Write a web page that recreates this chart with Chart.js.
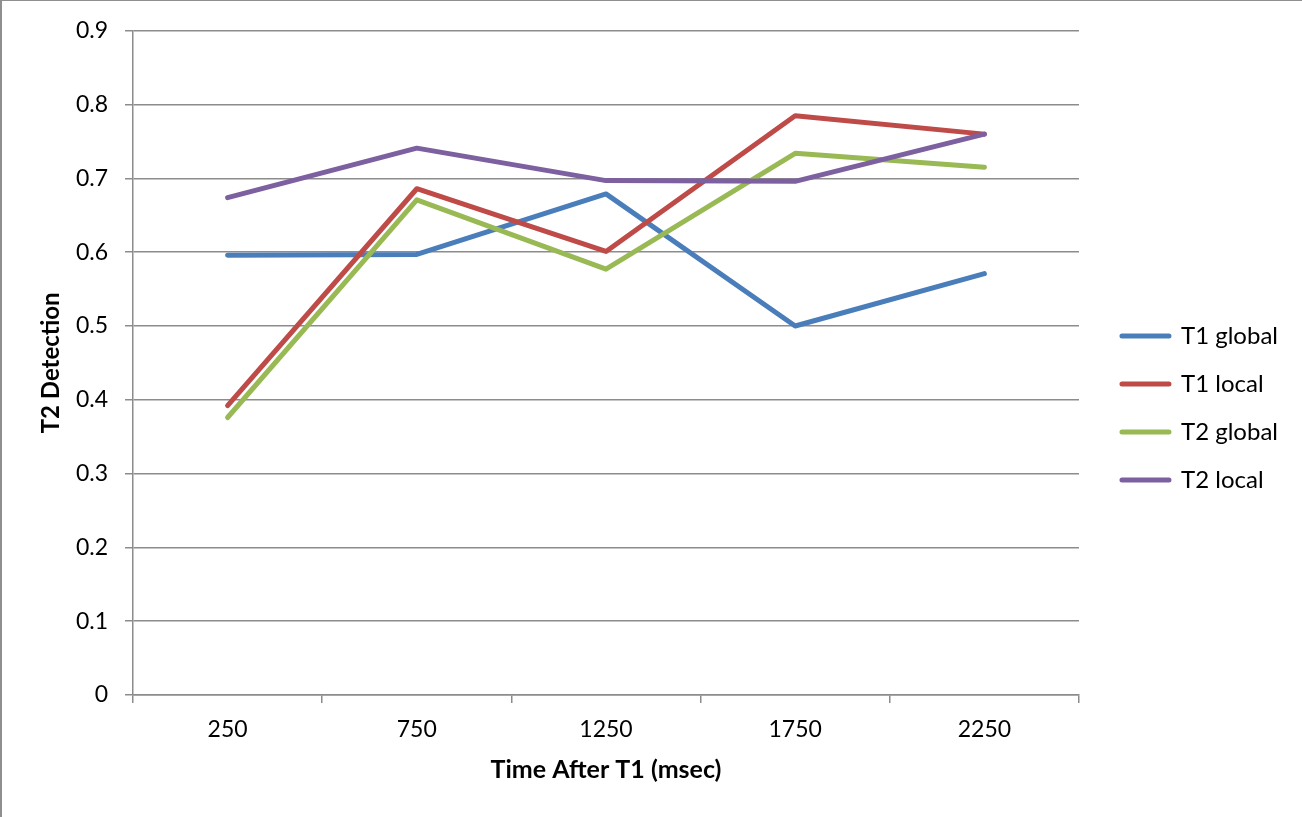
<!DOCTYPE html>
<html>
<head>
<meta charset="utf-8">
<title>T2 Detection by Time After T1</title>
<script src="https://cdn.jsdelivr.net/npm/chart.js@4/dist/chart.umd.min.js"></script>
<style>
  html, body { margin: 0; padding: 0; background: #fff; }
  #wrap { position: relative; width: 1302px; height: 817px; }
</style>
</head>
<body>
<div id="wrap"><canvas id="chart" width="1302" height="817"></canvas></div>
<script>
// Lag after T1 (ms)
const categories = ['250', '750', '1250', '1750', '2250'];

// Proportion of T2 detected, per condition
const t1Global = [0.596, 0.597, 0.679, 0.500, 0.571];
const t1Local  = [0.392, 0.686, 0.601, 0.785, 0.760];
const t2Global = [0.376, 0.671, 0.577, 0.734, 0.715];
const t2Local  = [0.674, 0.741, 0.697, 0.696, 0.760];

const seriesNames = ['T1 global', 'T1 local', 'T2 global', 'T2 local'];
const seriesColors = ['#4A7EBB', '#BE4B48', '#98B954', '#7D60A0'];
const seriesValues = [t1Global, t1Local, t2Global, t2Local];

const FONT = 'Lato, "Noto Sans", sans-serif';
const GRID = '#8c8c8c';

// White page with a thin grey frame along the top and left edges
const framePlugin = {
  id: 'frame',
  beforeDraw(chart) {
    const { ctx, width, height } = chart;
    ctx.save();
    ctx.fillStyle = '#ffffff';
    ctx.fillRect(0, 0, width, height);
    ctx.fillStyle = '#8f8f8f';
    ctx.fillRect(0, 0, width, 1);
    ctx.fillRect(0, 0, 2, height);
    ctx.restore();
  }
};

const datasets = seriesValues.map((vals, i) => ({
  label: seriesNames[i],
  data: vals,
  borderColor: seriesColors[i],
  backgroundColor: seriesColors[i],
  borderWidth: 5,
  borderCapStyle: 'round',
  borderJoinStyle: 'round',
  pointRadius: 0,
  pointHoverRadius: 0,
  tension: 0,
  // later series are painted over earlier ones
  order: seriesValues.length - i
}));

new Chart(document.getElementById('chart'), {
  type: 'line',
  data: { labels: categories, datasets },
  plugins: [framePlugin],
  options: {
    responsive: false,
    animation: false,
    events: [],
    layout: { padding: { top: 29, left: 0, right: 14, bottom: 30 } },
    plugins: {
      tooltip: { enabled: false },
      legend: {
        position: 'right',
        align: 'center',
        labels: {
          boxWidth: 47,
          boxHeight: 0,
          padding: 24,
          color: '#000',
          font: { family: FONT, size: 24 },
          sort: (a, b) => a.datasetIndex - b.datasetIndex
        }
      }
    },
    scales: {
      x: {
        type: 'category',
        offset: true,
        grid: {
          offset: true,
          drawOnChartArea: false,
          drawTicks: true,
          tickLength: 8,
          color: GRID,
          lineWidth: 1.5
        },
        border: { display: true, color: GRID, width: 1.5 },
        ticks: {
          color: '#000',
          padding: 13,
          maxRotation: 0,
          font: { family: FONT, size: 23 }
        },
        title: {
          display: true,
          text: 'Time After T1 (msec)',
          color: '#000',
          font: { family: FONT, size: 25, weight: 'bold' },
          padding: { top: 0, bottom: 2 }
        },
        afterFit(scale) { scale.height = 92; }
      },
      y: {
        min: 0,
        max: 0.9,
        ticks: {
          stepSize: 0.1,
          color: '#000',
          padding: 17,
          font: { family: FONT, size: 23 },
          callback: (v) => (Math.round(v * 10) / 10).toString()
        },
        grid: {
          color: GRID,
          lineWidth: 1.5,
          drawTicks: true,
          tickLength: 8
        },
        border: { display: true, color: GRID, width: 1.5 },
        title: {
          display: true,
          text: 'T2 Detection',
          color: '#000',
          font: { family: FONT, size: 24, weight: 'bold' },
          padding: { top: 37, bottom: 0 }
        },
        afterFit(scale) { scale.width = 133; }
      },
      // narrow blank strip between the plot and the legend
      gap: {
        position: 'right',
        display: true,
        grid: { display: false, drawTicks: false },
        border: { display: false },
        ticks: { display: false },
        afterFit(scale) { scale.width = 19; }
      }
    }
  }
});
</script>
</body>
</html>
